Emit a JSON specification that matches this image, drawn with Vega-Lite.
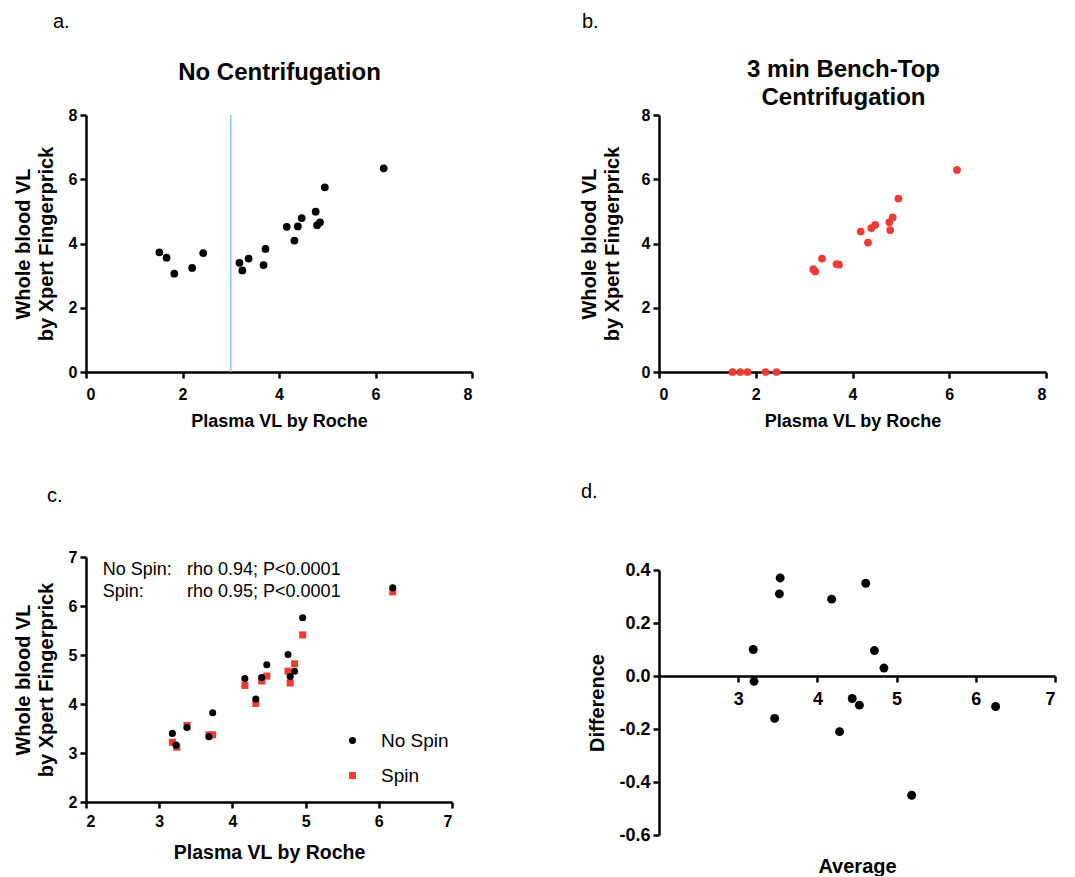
{
  "$schema": "https://vega.github.io/schema/vega-lite/v6.json",
  "padding": {"left": 13, "top": 12, "right": 0, "bottom": 0},
  "background": "white",
  "config": {
    "view": {"stroke": null},
    "axis": {
      "grid": false,
      "domainColor": "black", "domainWidth": 2.5,
      "tickColor": "black", "tickWidth": 2.5, "tickSize": 6,
      "labelFont": "Liberation Sans", "labelFontWeight": "bold", "labelFontSize": 16, "labelColor": "black", "labelPadding": 3,
      "titleFont": "Liberation Sans", "titleFontWeight": "bold", "titleColor": "black"
    },
    "title": {"font": "Liberation Sans", "fontSize": 20, "fontWeight": "normal", "color": "black", "anchor": "start", "frame": "group"},
    "legend": {"labelFont": "Liberation Sans", "labelColor": "black"}
  },
  "datasets": {
    "nospin": [
      {"plasma": 1.52, "wb": 3.72}, {"plasma": 1.67, "wb": 3.56}, {"plasma": 1.83, "wb": 3.06},
      {"plasma": 2.20, "wb": 3.24}, {"plasma": 2.43, "wb": 3.70}, {"plasma": 3.18, "wb": 3.40},
      {"plasma": 3.24, "wb": 3.16}, {"plasma": 3.37, "wb": 3.53}, {"plasma": 3.68, "wb": 3.33},
      {"plasma": 3.72, "wb": 3.83}, {"plasma": 4.16, "wb": 4.52}, {"plasma": 4.32, "wb": 4.09},
      {"plasma": 4.39, "wb": 4.53}, {"plasma": 4.47, "wb": 4.79}, {"plasma": 4.76, "wb": 4.99},
      {"plasma": 4.79, "wb": 4.57}, {"plasma": 4.85, "wb": 4.66}, {"plasma": 4.95, "wb": 5.75},
      {"plasma": 6.17, "wb": 6.34}
    ],
    "spin": [
      {"plasma": 1.52, "wb": 0}, {"plasma": 1.68, "wb": 0}, {"plasma": 1.83, "wb": 0},
      {"plasma": 2.20, "wb": 0}, {"plasma": 2.43, "wb": 0}, {"plasma": 3.19, "wb": 3.20},
      {"plasma": 3.23, "wb": 3.13}, {"plasma": 3.37, "wb": 3.53}, {"plasma": 3.67, "wb": 3.36},
      {"plasma": 3.72, "wb": 3.34}, {"plasma": 4.17, "wb": 4.37}, {"plasma": 4.32, "wb": 4.03},
      {"plasma": 4.39, "wb": 4.48}, {"plasma": 4.47, "wb": 4.58}, {"plasma": 4.76, "wb": 4.66},
      {"plasma": 4.78, "wb": 4.42}, {"plasma": 4.83, "wb": 4.81}, {"plasma": 4.95, "wb": 5.40},
      {"plasma": 6.16, "wb": 6.29}
    ],
    "compare": [
      {"group": "Spin", "plasma": 3.18, "wb": 3.22}, {"group": "Spin", "plasma": 3.24, "wb": 3.12},
      {"group": "Spin", "plasma": 3.38, "wb": 3.56}, {"group": "Spin", "plasma": 3.68, "wb": 3.37},
      {"group": "Spin", "plasma": 3.73, "wb": 3.37}, {"group": "Spin", "plasma": 4.17, "wb": 4.38},
      {"group": "Spin", "plasma": 4.32, "wb": 4.01}, {"group": "Spin", "plasma": 4.40, "wb": 4.47},
      {"group": "Spin", "plasma": 4.47, "wb": 4.57}, {"group": "Spin", "plasma": 4.76, "wb": 4.67},
      {"group": "Spin", "plasma": 4.79, "wb": 4.43}, {"group": "Spin", "plasma": 4.85, "wb": 4.82},
      {"group": "Spin", "plasma": 4.96, "wb": 5.41}, {"group": "Spin", "plasma": 6.19, "wb": 6.29},
      {"group": "No Spin", "plasma": 3.18, "wb": 3.40}, {"group": "No Spin", "plasma": 3.23, "wb": 3.16},
      {"group": "No Spin", "plasma": 3.38, "wb": 3.52}, {"group": "No Spin", "plasma": 3.68, "wb": 3.33},
      {"group": "No Spin", "plasma": 3.73, "wb": 3.82}, {"group": "No Spin", "plasma": 4.17, "wb": 4.52},
      {"group": "No Spin", "plasma": 4.32, "wb": 4.10}, {"group": "No Spin", "plasma": 4.40, "wb": 4.54},
      {"group": "No Spin", "plasma": 4.47, "wb": 4.80}, {"group": "No Spin", "plasma": 4.76, "wb": 5.01},
      {"group": "No Spin", "plasma": 4.79, "wb": 4.56}, {"group": "No Spin", "plasma": 4.85, "wb": 4.67},
      {"group": "No Spin", "plasma": 4.96, "wb": 5.76}, {"group": "No Spin", "plasma": 6.19, "wb": 6.37}
    ],
    "blandaltman": [
      {"average": 3.19, "difference": 0.10}, {"average": 3.20, "difference": -0.02},
      {"average": 3.53, "difference": 0.37}, {"average": 3.52, "difference": 0.31},
      {"average": 3.46, "difference": -0.16}, {"average": 4.18, "difference": 0.29},
      {"average": 4.28, "difference": -0.21}, {"average": 4.61, "difference": 0.35},
      {"average": 4.44, "difference": -0.085}, {"average": 4.53, "difference": -0.11},
      {"average": 4.72, "difference": 0.096}, {"average": 4.84, "difference": 0.03},
      {"average": 5.19, "difference": -0.45}, {"average": 6.25, "difference": -0.115}
    ]
  },
  "spacing": 105,
  "hconcat": [
    {
      "bounds": "flush",
      "spacing": 185,
      "vconcat": [
        {
          "width": 386, "height": 257,
          "title": {"text": "a.", "dx": -33, "offset": 28},
          "resolve": {"axis": {"x": "independent"}},
          "layer": [
            {
              "data": {"values": [{}]},
              "mark": {"type": "rule", "color": "#8cc6ea", "strokeWidth": 1.5},
              "encoding": {
                "x": {"datum": 3, "type": "quantitative", "scale": {"domain": [0, 8]},
                  "axis": {"orient": "top", "labels": false, "ticks": false, "domain": false, "title": "No Centrifugation", "titleFontSize": 24, "titlePadding": 31}}
              }
            },
            {
              "data": {"name": "nospin"},
              "mark": {"type": "circle", "size": 60, "color": "black", "opacity": 1},
              "encoding": {
                "x": {"field": "plasma", "type": "quantitative", "scale": {"domain": [0, 8]},
                  "axis": {"orient": "bottom", "values": [0, 2, 4, 6, 8], "format": "d", "labelPadding": 8, "title": "Plasma VL by Roche", "titleFontSize": 18, "titlePadding": 10}},
                "y": {"field": "wb", "type": "quantitative", "scale": {"domain": [0, 8]},
                  "axis": {"values": [0, 2, 4, 6, 8], "format": "d", "title": ["Whole blood VL", "by Xpert Fingerprick"], "titleFontSize": 20, "titleLineHeight": 23, "titlePadding": 12}}
              }
            }
          ]
        },
        {
          "width": 366, "height": 245,
          "title": {"text": "c.", "dx": -39, "offset": 43},
          "layer": [
            {
              "data": {"name": "compare"},
              "mark": {"type": "point", "filled": true, "size": 50, "opacity": 1},
              "encoding": {
                "x": {"field": "plasma", "type": "quantitative", "scale": {"domain": [2, 7]},
                  "axis": {"values": [2, 3, 4, 5, 6, 7], "format": "d", "labelPadding": 5, "title": "Plasma VL by Roche", "titleFontSize": 19.5, "titlePadding": 14}},
                "y": {"field": "wb", "type": "quantitative", "scale": {"domain": [2, 7]},
                  "axis": {"values": [2, 3, 4, 5, 6, 7], "format": "d", "title": ["Whole blood VL", "by Xpert Fingerprick"], "titleFontSize": 20, "titleLineHeight": 23, "titlePadding": 12}},
                "color": {"field": "group", "type": "nominal",
                  "scale": {"domain": ["No Spin", "Spin"], "range": ["black", "#ee3b33"]},
                  "legend": {"title": null, "orient": "none", "legendX": 257, "legendY": 616, "labelFontSize": 19, "labelOffset": 19, "rowPadding": 15, "symbolSize": 50, "padding": 0}},
                "shape": {"field": "group", "type": "nominal",
                  "scale": {"domain": ["No Spin", "Spin"], "range": ["circle", "square"]}}
              }
            },
            {
              "data": {"values": [{}]},
              "mark": {"type": "text", "align": "left", "baseline": "top", "font": "Liberation Sans", "fontSize": 18, "lineHeight": 22, "color": "black"},
              "encoding": {
                "x": {"datum": 2.23, "type": "quantitative"},
                "y": {"datum": 6.92, "type": "quantitative"},
                "text": {"value": ["No Spin:", "Spin:"]}
              }
            },
            {
              "data": {"values": [{}]},
              "mark": {"type": "text", "align": "left", "baseline": "top", "font": "Liberation Sans", "fontSize": 18, "lineHeight": 22, "color": "black"},
              "encoding": {
                "x": {"datum": 3.38, "type": "quantitative"},
                "y": {"datum": 6.92, "type": "quantitative"},
                "text": {"value": ["rho 0.94; P<0.0001", "rho 0.95; P<0.0001"]}
              }
            }
          ]
        }
      ]
    },
    {
      "bounds": "flush",
      "spacing": 198,
      "vconcat": [
        {
          "width": 387, "height": 257,
          "title": {"text": "b.", "dx": -77, "offset": 25},
          "resolve": {"axis": {"x": "independent"}},
          "layer": [
            {
              "data": {"name": "spin"},
              "mark": {"type": "point", "opacity": 0},
              "encoding": {
                "x": {"field": "plasma", "type": "quantitative", "scale": {"domain": [0, 8]},
                  "axis": {"orient": "top", "labels": false, "ticks": false, "domain": false, "title": ["3 min Bench-Top", "Centrifugation"], "titleFontSize": 24, "titleLineHeight": 28, "titlePadding": 6, "titleX": 184}}
              }
            },
            {
              "data": {"name": "spin"},
              "mark": {"type": "circle", "size": 60, "color": "#ee3b33", "opacity": 1},
              "encoding": {
                "x": {"field": "plasma", "type": "quantitative", "scale": {"domain": [0, 8]},
                  "axis": {"orient": "bottom", "values": [0, 2, 4, 6, 8], "format": "d", "labelPadding": 8, "title": "Plasma VL by Roche", "titleFontSize": 18, "titlePadding": 10}},
                "y": {"field": "wb", "type": "quantitative", "scale": {"domain": [0, 8]},
                  "axis": {"values": [0, 2, 4, 6, 8], "format": "d", "title": ["Whole blood VL", "by Xpert Fingerprick"], "titleFontSize": 20, "titleLineHeight": 23, "titlePadding": 19}}
              }
            }
          ]
        },
        {
          "width": 396, "height": 265,
          "title": {"text": "d.", "dx": -78, "offset": 59},
          "data": {"name": "blandaltman"},
          "mark": {"type": "circle", "size": 80, "color": "black", "opacity": 1},
          "encoding": {
            "x": {"field": "average", "type": "quantitative", "scale": {"domain": [2, 7]},
              "axis": {"offset": -159, "values": [3, 4, 5, 6, 7], "format": "d", "labelPadding": 8, "title": "Average", "titleFontSize": 20, "titleY": 180, "labelFontSize": 18}},
            "y": {"field": "difference", "type": "quantitative", "scale": {"domain": [-0.6, 0.4]},
              "axis": {"values": [-0.6, -0.4, -0.2, 0, 0.2, 0.4], "labelExpr": "replace(format(datum.value, '.1f'), '\u2212', '-')", "title": "Difference", "titleFontSize": 20, "labelFontSize": 18, "titlePadding": 11}}
          }
        }
      ]
    }
  ]
}
